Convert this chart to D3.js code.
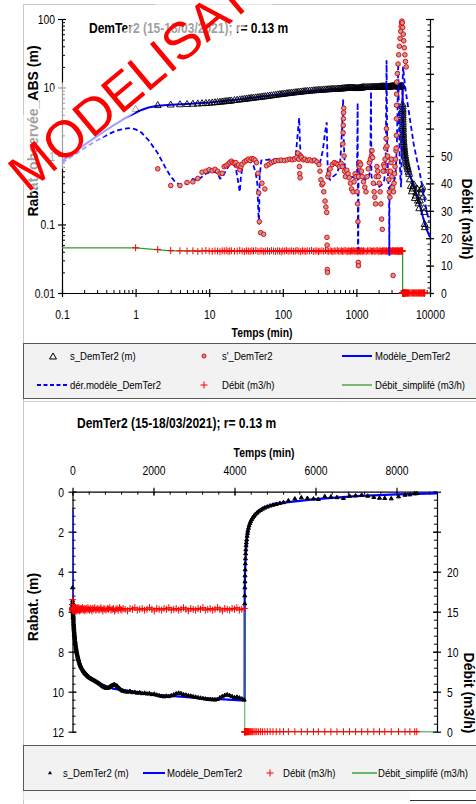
<!DOCTYPE html>
<html>
<head>
<meta charset="utf-8">
<script src="https://cdn.jsdelivr.net/npm/d3@7"></script>
<style>
  body { margin: 0; background: #fff; }
  svg { display: block; }
</style>
</head>
<body>
<div id="chart"></div>
<script>
// ---------- data (time in min) ----------
// observed rows: [time, drawdown s (m), pumping rate Q (m3/h)]
const pumpingObs = [
  [1,4.8,16.5],[2,5.45,15.9],[3,5.55,15.5],[4,5.6,15.4],[5,5.65,15.3],[6,5.7,15.4],[7,5.75,15.2],[8,5.8,15.3],[9,5.85,15.5],[10,5.9,15.3],
  [11,5.95,15.2],[12,6.0,15.4],[13,6.05,15.3],[14,6.1,15.1],[15,6.15,15.4],[16,6.2,15.3],[17,6.24,15.5],[18,6.28,15.2],[19,6.32,15.3],[20,6.36,15.4],
  [22,6.45,15.2],[24,6.52,15.3],[26,6.6,15.5],[28,6.66,15.3],[30,6.72,15.1],[32,6.78,15.4],[34,6.84,15.3],[36,6.9,15.2],[38,6.95,15.4],[40,7.0,15.3],
  [43,7.06,15.5],[46,7.12,15.2],[49,7.18,15.3],[52,7.24,15.4],[55,7.3,15.1],[58,7.36,15.3],[62,7.44,15.4],[66,7.5,15.2],[70,7.56,15.5],
  [75,7.64,15.3],[80,7.72,15.2],[85,7.8,15.4],[90,7.86,15.3],[95,7.92,15.1],[100,7.98,15.4],[106,8.04,15.3],[112,8.1,15.5],[118,8.16,15.2],
  [125,8.22,15.3],[132,8.28,15.4],[140,8.34,15.2],[148,8.4,15.3],[156,8.46,15.5],[165,8.52,15.3],[175,8.58,15.1],[185,8.64,15.4],[195,8.7,15.3],[205,8.74,15.2],[215,8.78,15.4],
  [230,8.84,15.3],[245,8.9,15.5],[260,8.95,15.2],[275,9.0,15.3],[290,9.04,15.4],[305,9.08,15.1],[320,9.12,15.3],
  [340,9.16,15.4],[360,9.2,15.2],[380,9.24,15.5],[400,9.27,15.3],[420,9.3,15.2],[440,9.33,15.4],[460,9.36,15.3],[480,9.38,15.1],[500,9.4,15.4],
  [525,9.43,15.3],[550,9.46,15.5],[575,9.49,15.2],[600,9.52,15.3],[625,9.55,15.4],[650,9.58,15.2],[675,9.62,15.3],[700,9.66,15.5],[725,9.7,15.3],[750,9.74,15.1],[775,9.77,15.4],[800,9.8,15.3],
  [830,9.82,15.2],[860,9.83,15.4],[890,9.81,15.3],[920,9.76,15.5],[950,9.72,15.2],[980,9.68,15.3],[1010,9.66,15.4],[1040,9.65,15.1],[1070,9.68,15.3],[1100,9.72,15.4],
  [1130,9.78,15.2],[1160,9.84,15.5],[1190,9.9,15.3],[1220,9.94,15.2],[1250,9.97,15.4],
  [1300,10.0,15.3],[1360,10.02,15.1],[1420,9.98,15.4],[1480,10.04,15.3],[1540,10.03,15.5],[1600,10.07,15.2],[1660,10.05,15.3],[1720,10.09,15.4],[1780,10.07,15.2],[1840,10.11,15.3],
  [1900,10.09,15.5],[1960,10.14,15.3],[2020,10.12,15.1],[2080,10.17,15.4],[2140,10.2,15.3],[2200,10.23,15.2],[2260,10.25,15.4],[2320,10.22,15.3],[2380,10.24,15.5],[2440,10.2,15.2],
  [2500,10.15,15.3],[2560,10.1,15.4],[2620,10.07,15.2],[2680,10.09,15.3],[2740,10.14,15.5],[2800,10.17,15.3],[2860,10.2,15.1],[2920,10.22,15.4],[2980,10.25,15.3],[3040,10.27,15.2],
  [3100,10.3,15.4],[3160,10.32,15.3],[3220,10.34,15.5],[3280,10.36,15.2],[3340,10.38,15.3],[3400,10.39,15.4],[3460,10.4,15.2],[3520,10.41,15.3],[3580,10.38,15.5],[3640,10.3,15.3],
  [3700,10.24,15.1],[3760,10.18,15.4],[3820,10.15,15.3],[3880,10.19,15.2],[3940,10.24,15.4],[4000,10.29,15.3],[4060,10.27,15.5],[4120,10.31,15.2],[4180,10.36,15.3],[4240,10.41,15.4]
];
const recoveryObs = [
  [4252,5.6,0],[4254,5.2,0],[4256,4.8,0],[4258,4.5,0],[4260,4.2,0],[4263,3.9,0],[4266,3.6,0],[4270,3.35,0],[4275,3.1,0],[4280,2.9,0],
  [4286,2.7,0],[4292,2.55,0],[4300,2.4,0],[4310,2.22,0],[4320,2.08,0],[4330,1.96,0],[4345,1.82,0],[4360,1.7,0],[4380,1.58,0],[4400,1.48,0],
  [4425,1.38,0],[4450,1.3,0],[4480,1.22,0],[4510,1.15,0],[4550,1.07,0],[4590,1.0,0],[4640,0.93,0],[4690,0.87,0],[4750,0.81,0],[4810,0.76,0],
  [4880,0.71,0],[4950,0.67,0],[5030,0.63,0],[5120,0.58,0],[5210,0.54,0],[5330,0.45,0],[5490,0.36,0],[5650,0.3,0],[5800,0.33,0],[5950,0.36,0],
  [6070,0.38,0],[6230,0.24,0],[6380,0.26,0],[6530,0.29,0],[6690,0.33,0],[6840,0.22,0],[6990,0.2,0],[7140,0.17,0],[7290,0.22,0],[7440,0.28,0],
  [7580,0.32,0],[7710,0.33,0],[7870,0.35,0],[8050,0.25,0],[8210,0.17,0],[8330,0.15,0],[8450,0.1,0],[8500,0.09,0]
];
// s'_DemTer2 (log derivative of observed drawdown)
const sDerivative = [
  [2,0.65],[3,0.37],[4,0.37],[5,0.41],[6,0.42],[7,0.47],[8,0.58],[9,0.6],[10,0.63],[11,0.61],[12,0.64],[13,0.6],[14,0.55],[15,0.56],
  [16,0.7],[17,0.72],[18,0.76],[19,0.8],[20,0.84],[21,0.8],[22,0.78],[23,0.8],[24,0.72],[25,0.74],[26,0.63],[27,0.7],[28,0.76],
  [30,0.82],[32,0.86],[34,0.9],[36,0.86],[38,0.92],[40,0.9],[42,0.87],[44,0.8],[46,0.56],[47,0.29],[48,0.11],[50,0.076],[52,0.4],
  [55,0.072],[57,0.33],[60,0.72],[65,0.76],[70,0.8],[75,0.83],[80,0.85],[88,0.86],[95,0.87],[105,0.86],[115,0.88],[125,0.9],
  [135,0.88],[145,0.9],[155,0.95],[160,1.1],[165,0.9],[168,0.7],[170,0.55],[172,0.48],[175,1.0],[180,0.95],[190,0.88],[200,0.9],
  [215,0.86],[230,0.88],[250,0.85],[270,0.87],[290,0.82],[310,0.75],[320,0.6],[330,0.45],[340,0.38],[350,0.4],[360,0.3],[375,0.22],
  [385,0.18],[395,0.15],[398,0.065],[400,0.05],[402,0.022],[404,0.02],[410,0.5],[420,0.55],[440,0.65],[470,0.75],[500,0.8],[530,0.78],
  [560,0.75],[590,0.7],[620,0.78],[645,0.7],[655,1.5],[660,2.2],[663,2.8],[666,3.5],[670,4.3],[673,5.0],[680,1.0],[690,0.6],[710,0.5],
  [740,0.62],[770,0.55],[800,0.48],[830,0.4],[860,0.33],[900,0.3],[930,0.42],[960,0.55],[990,0.5],[1020,0.3],[1040,0.2],[1050,0.11],
  [1060,0.028],[1065,0.025],[1070,0.5],[1090,0.7],[1110,0.8],[1140,0.75],[1170,0.6],[1200,0.5],[1250,0.42],[1300,0.35],[1350,0.3],
  [1400,0.5],[1450,0.65],[1500,0.8],[1550,0.9],[1600,1.0],[1630,1.2],[1660,0.95],[1700,0.4],[1740,0.3],[1780,0.25],[1820,0.2],
  [1860,0.5],[1900,0.7],[1950,0.6],[2000,0.5],[2050,0.4],[2100,0.3],[2150,0.2],[2200,0.12],[2250,0.085],[2300,0.6],[2350,0.75],
  [2400,0.7],[2450,0.9],[2500,1.3],[2530,1.8],[2560,2.5],[2600,1.4],[2650,1.0],[2700,0.6],[2750,0.45],[2800,0.3],[2850,0.25],
  [2900,0.6],[2950,0.8],[3000,0.9],[3050,0.5],[3100,0.35],[3150,0.018],[3200,0.3],[3250,0.4],[3300,0.55],[3350,0.7],[3400,0.9],
  [3450,1.2],[3480,1.3],[3490,2],[3500,3.5],[3510,5.5],[3520,8],[3530,12],[3600,16],[3680,22],[3760,30],[3840,40],[3920,52],
  [4000,66],[4060,78],[4110,88],[4150,93],[4200,88],[4260,75],[4330,60],[4400,48],[4480,38],[4560,30],[4650,24],[4750,20]
];
// Modèle_DemTer2
const model = [
  [0.1,0.85],[0.15,1.15],[0.2,1.45],[0.3,1.95],[0.4,2.4],[0.5,2.8],[0.6,3.15],[0.7,3.5],[0.8,3.8],[1,4.25],[1.2,4.7],[1.5,5.1],
  [2,5.4],[3,5.6],[5,5.75],[10,6.05],[20,6.5],[50,7.3],[100,8.0],[200,8.75],[500,9.45],[1000,9.85],[2000,10.15],[3000,10.3],
  [4250,10.45],[4251,6.0],[4253,5.0],[4260,4.0],[4280,3.0],[4320,2.1],[4400,1.45],[4500,1.12],[4700,0.8],[5000,0.6],[5500,0.48],
  [6000,0.37],[7000,0.22],[8000,0.13],[9000,0.085],[10000,0.065]
];
// dér.modèle_DemTer2
const modelDerivative = [
  [0.1,0.8],[0.15,1.05],[0.2,1.3],[0.3,1.7],[0.4,2.0],[0.5,2.25],[0.6,2.4],[0.7,2.5],[0.85,2.55],[1,2.45],[1.2,2.2],[1.5,1.7],
  [2,1.1],[2.5,0.7],[3,0.5],[3.5,0.41],[4,0.38],[5,0.4],[6,0.46],[7,0.44],[8,0.5],[9,0.55],[11,0.6],[13,0.56],[14,0.47],[15,0.48],
  [17,0.62],[19,0.75],[21,0.78],[23,0.66],[24.5,0.45],[26,0.3],[27,0.5],[29,0.8],[32,0.86],[36,0.83],[40,0.72],[43,0.56],[45,0.4],
  [46.5,0.15],[47.5,0.1],[48.5,0.5],[51,0.86],[60,0.88],[80,0.9],[100,0.9],[130,0.92],[150,1.0],[160,2.2],[167,3.6],[171,1.6],
  [175,1.0],[190,0.92],[230,0.88],[280,0.9],[320,0.8],[350,1.2],[375,2.2],[395,3.1],[402,1.2],[410,0.5],[440,0.45],[480,0.5],
  [540,0.55],[600,0.75],[640,2.5],[660,6.7],[675,1.5],[700,0.62],[760,0.55],[850,0.5],[950,0.48],[1020,0.6],[1040,6.0],[1050,0.05],
  [1060,0.043],[1070,0.6],[1150,0.5],[1300,0.45],[1450,0.48],[1540,0.6],[1580,8.7],[1600,0.5],[1700,0.42],[1850,0.38],[2000,0.35],
  [2200,0.38],[2400,0.45],[2500,0.9],[2570,25],[2620,1.5],[2700,0.45],[2780,0.3],[2800,0.035],[2820,0.35],[3000,0.38],[3200,0.42],
  [3400,0.5],[3550,1.5],[3650,8],[3700,23],[3760,6],[3850,1.2],[3950,0.5],[4050,0.35],[4150,1.5],[4250,12],[4300,20],[4600,10],
  [5000,5.5],[5500,2.8],[6000,1.5],[6650,0.87],[7300,0.55],[8000,0.32],[8800,0.18],[9700,0.11]
];
// Débit_simplifé (m3/h)
const rateSimplified = [[0.1,16.5],[1,16.5],[3,15.4],[4250,15.4],[4250,0],[10000,0]];

// ---------- axis ticks ----------
const logXTicks = [0.1, 1, 10, 100, 1000, 10000];
const logXLabels = ["0.1", "1", "10", "100", "1000", "10000"];
const logYTicks = [0.01, 0.1, 1, 10, 100];
const logYLabels = ["0.01", "0.1", "1", "10", "100"];
const q1Ticks = [0, 10, 20, 30, 40, 50, 60, 70, 80, 90, 100];
const q1Labels = ["0", "10", "20", "30", "40", "50", "", "", "", "", ""];
const linXTicks = [0, 2000, 4000, 6000, 8000];
const linXLabels = ["0", "2000", "4000", "6000", "8000"];
const linYTicks = [0, 2, 4, 6, 8, 10, 12];
const linYLabels = ["0", "2", "4", "6", "8", "10", "12"];
const q2Ticks = [0, 5, 10, 15, 20, 25, 30];
const q2Labels = ["0", "5", "10", "15", "20", "", ""];

const title = "DemTer2 (15-18/03/2021); r= 0.13 m";

// ---------- setup ----------
const W = 476, H = 804;
const FONT = "'Liberation Sans',Arial,sans-serif";
const SX = 0.83;   // the reference text is horizontally condensed
const BLUE = "#0000ff", RED = "#ff0000", GREEN = "#339933";

const svg = d3.select("#chart").append("svg")
    .attr("width", W).attr("height", H)
    .style("font-family", FONT);

svg.append("rect").attr("width", W).attr("height", H).attr("fill", "#fff");
svg.append("path").attr("d", "M23.5,804V4.5H476").attr("fill", "none").attr("stroke", "#c8c8c8");

const allObs = pumpingObs.concat(recoveryObs);
const plus = "M-3.5,0H3.5M0,-3.5V3.5";
const triBig = d3.symbol(d3.symbolTriangle, 21)();
const triSmall = d3.symbol(d3.symbolTriangle, 7)();

// condensed horizontal text
function ntext(parent, x, y, str, size, bold, anchor) {
    return parent.append("text")
        .attr("transform", `translate(${x},${y}) scale(${SX},1)`)
        .attr("dy", "0.35em")
        .attr("font-size", size)
        .attr("font-weight", bold ? "bold" : null)
        .attr("text-anchor", anchor || "start")
        .text(str);
}
function styleAxis(g, dx, dy) {
    g.attr("font-family", FONT).attr("font-size", 12.5);
    g.select(".domain").attr("stroke", "#000").attr("stroke-width", 1.2);
    g.selectAll(".tick line").attr("stroke", "#000").attr("stroke-width", 1.2);
    g.selectAll(".tick text").attr("fill", "#000")
        .attr("x", null).attr("y", null).attr("dy", "0.35em")
        .attr("transform", `translate(${dx},${dy}) scale(${SX},1)`);
}
function minorAxis(parent, axis, tr) {
    parent.append("g").attr("transform", tr)
        .call(axis.tickFormat("").tickSizeOuter(0))
        .call(g => g.select(".domain").remove())
        .call(g => g.selectAll(".tick line").attr("stroke", "#000"));
}

// ================= top chart (log-log) =================
const gTop = svg.append("g");
const xL = d3.scaleLog().domain([0.1, 10000]).range([62, 430]);
const yL = d3.scaleLog().domain([0.01, 100]).range([293, 19]);
const yQ1 = d3.scaleLinear().domain([0, 100]).range([293, 19]);

const minorLogX = xL.ticks().filter(d => !logXTicks.includes(d));
const minorLogY = yL.ticks().filter(d => !logYTicks.includes(d));

minorAxis(gTop, d3.axisTop(xL).tickValues(minorLogX).tickSize(3), "translate(0,293)");
minorAxis(gTop, d3.axisRight(yL).tickValues(minorLogY).tickSize(3), "translate(62,0)");
minorAxis(gTop, d3.axisLeft(yQ1).tickValues(d3.range(0, 101, 2)).tickSize(2.5), "translate(430,0)");

gTop.append("g").attr("transform", "translate(0,293)")
    .call(d3.axisBottom(xL).tickValues(logXTicks).tickFormat((d, i) => logXLabels[i]).tickSize(4).tickSizeOuter(0))
    .call(g => styleAxis(g, 0, 22))
    .call(g => g.selectAll(".tick line").attr("y1", -4));
gTop.append("g").attr("transform", "translate(62,0)")
    .call(d3.axisLeft(yL).tickValues(logYTicks).tickFormat((d, i) => logYLabels[i]).tickSize(4).tickSizeOuter(0))
    .call(g => styleAxis(g, -7, 0))
    .call(g => g.selectAll(".tick line").attr("x1", 4));
gTop.append("g").attr("transform", "translate(430,0)")
    .call(d3.axisRight(yQ1).tickValues(q1Ticks).tickFormat((d, i) => q1Labels[i]).tickSize(4).tickSizeOuter(0))
    .call(g => styleAxis(g, 11, 0))
    .call(g => g.selectAll(".tick line").attr("x1", -4));

const lineL = d3.line().x(d => xL(d[0])).y(d => yL(d[1]));
const lineQ1 = d3.line().x(d => xL(d[0])).y(d => yQ1(d[1]));

gTop.append("path").attr("d", lineQ1(rateSimplified))
    .attr("fill", "none").attr("stroke", GREEN).attr("stroke-width", 1.3);
gTop.append("g").selectAll("path").data(allObs).join("path")
    .attr("transform", d => `translate(${xL(d[0])},${yQ1(d[2])})`)
    .attr("d", plus).attr("stroke", RED).attr("stroke-width", 1);
gTop.append("path").attr("d", lineL(model))
    .attr("fill", "none").attr("stroke", BLUE).attr("stroke-width", 2);
gTop.append("g").selectAll("path").data(allObs).join("path")
    .attr("transform", d => `translate(${xL(d[0])},${yL(d[1])})`)
    .attr("d", triBig).attr("fill", "none").attr("stroke", "#000").attr("stroke-width", 0.9);
gTop.append("path").attr("d", lineL(modelDerivative))
    .attr("fill", "none").attr("stroke", BLUE).attr("stroke-width", 1.8).attr("stroke-dasharray", "5,3");
gTop.append("g").selectAll("circle").data(sDerivative).join("circle")
    .attr("cx", d => xL(d[0])).attr("cy", d => yL(d[1])).attr("r", 2.3)
    .attr("fill", "#a6a6a6").attr("stroke", RED).attr("stroke-width", 1);

ntext(gTop, 89, 28, title, 14.5, true);
ntext(gTop, 262, 333, "Temps (min)", 12.5, true, "middle");
gTop.append("text").attr("transform", "translate(33,131) rotate(-90)").attr("dy", "0.35em")
    .attr("text-anchor", "middle").attr("font-size", 14).attr("font-weight", "bold")
    .text("Rabat. observée_ABS (m)");
gTop.append("text").attr("transform", "translate(467,219) rotate(90)").attr("dy", "0.35em")
    .attr("text-anchor", "middle").attr("font-size", 14).attr("font-weight", "bold")
    .text("Débit (m3/h)");

// legend 1
const lg1 = svg.append("g");
lg1.append("rect").attr("x", 23.5).attr("y", 343.5).attr("width", 460).attr("height", 55)
    .attr("fill", "#f2f2f2").attr("stroke", "#595959");
lg1.append("path").attr("transform", "translate(53,357)").attr("d", triBig)
    .attr("fill", "none").attr("stroke", "#000").attr("stroke-width", 1);
lg1.append("circle").attr("cx", 204).attr("cy", 356).attr("r", 2)
    .attr("fill", "#a6a6a6").attr("stroke", RED);
lg1.append("line").attr("x1", 342).attr("x2", 372).attr("y1", 356).attr("y2", 356)
    .attr("stroke", BLUE).attr("stroke-width", 2);
lg1.append("line").attr("x1", 37).attr("x2", 68).attr("y1", 385).attr("y2", 385)
    .attr("stroke", BLUE).attr("stroke-width", 1.8).attr("stroke-dasharray", "4,2.5");
lg1.append("path").attr("transform", "translate(204,385)").attr("d", plus).attr("stroke", RED);
lg1.append("line").attr("x1", 342).attr("x2", 372).attr("y1", 385).attr("y2", 385)
    .attr("stroke", GREEN).attr("stroke-width", 1.3);
const lg1Items = [
  ["s_DemTer2 (m)", 70, 356], ["s'_DemTer2", 222, 356], ["Modèle_DemTer2", 375, 356],
  ["dér.modèle_DemTer2", 70, 385], ["Débit (m3/h)", 222, 385], ["Débit_simplifé (m3/h)", 375, 385]
];
lg1Items.forEach(d => ntext(lg1, d[1], d[2], d[0], 11.5, false));

svg.append("line").attr("x1", 23).attr("x2", W).attr("y1", 401.5).attr("y2", 401.5).attr("stroke", "#d0d0d0");

// ================= bottom chart (linear) =================
const gBot = svg.append("g");
const xT = d3.scaleLinear().domain([0, 9000]).range([72.5, 437]);
const yS = d3.scaleLinear().domain([0, 12]).range([491.7, 731.7]);
const yQ2 = d3.scaleLinear().domain([0, 30]).range([731.7, 491.7]);

gBot.append("clipPath").attr("id", "clipLin")
    .append("rect").attr("x", 72.5).attr("y", 485).attr("width", 364.5).attr("height", 255);

minorAxis(gBot, d3.axisBottom(xT).tickValues(d3.range(0, 9001, 400)).tickSize(3), `translate(0,${yS(0)})`);
minorAxis(gBot, d3.axisRight(yS).tickValues(d3.range(0, 12.01, 0.4)).tickSize(3), "translate(72.5,0)");
minorAxis(gBot, d3.axisLeft(yQ2).tickValues(d3.range(0, 30.01, 1)).tickSize(3), "translate(437,0)");

gBot.append("g").attr("transform", `translate(0,${yS(0)})`)
    .call(d3.axisTop(xT).tickValues(linXTicks).tickFormat((d, i) => linXLabels[i]).tickSize(4).tickSizeOuter(0))
    .call(g => styleAxis(g, 0, -21))
    .call(g => g.selectAll(".tick line").attr("y1", 4));
gBot.append("g").attr("transform", "translate(72.5,0)")
    .call(d3.axisLeft(yS).tickValues(linYTicks).tickFormat((d, i) => linYLabels[i]).tickSize(4).tickSizeOuter(0))
    .call(g => styleAxis(g, -8.5, 0))
    .call(g => g.selectAll(".tick line").attr("x1", 4));
gBot.append("g").attr("transform", "translate(437,0)")
    .call(d3.axisRight(yQ2).tickValues(q2Ticks).tickFormat((d, i) => q2Labels[i]).tickSize(4).tickSizeOuter(0))
    .call(g => styleAxis(g, 10, 0))
    .call(g => g.selectAll(".tick line").attr("x1", -4));

const lineS = d3.line().x(d => xT(d[0])).y(d => yS(d[1]));
const lineQ2 = d3.line().x(d => xT(d[0])).y(d => yQ2(d[1]));

gBot.append("path").attr("d", lineS(model)).attr("clip-path", "url(#clipLin)")
    .attr("fill", "none").attr("stroke", BLUE).attr("stroke-width", 2.2);
gBot.append("path").attr("d", lineQ2(rateSimplified)).attr("clip-path", "url(#clipLin)")
    .attr("fill", "none").attr("stroke", GREEN).attr("stroke-width", 1.4).attr("stroke-opacity", 0.65);
gBot.append("g").selectAll("path").data(allObs).join("path")
    .attr("transform", d => `translate(${xT(d[0])},${yS(d[1])})`)
    .attr("d", triSmall).attr("fill", "#000").attr("stroke", "#000").attr("stroke-width", 1);
gBot.append("g").selectAll("path").data(allObs).join("path")
    .attr("transform", d => `translate(${xT(d[0])},${yQ2(d[2])})`)
    .attr("d", plus).attr("stroke", RED).attr("stroke-width", 1);

ntext(gBot, 77, 423, title, 14.5, true);
ntext(gBot, 264, 453, "Temps (min)", 12.5, true, "middle");
gBot.append("text").attr("transform", "translate(33,607) rotate(-90)").attr("dy", "0.35em")
    .attr("text-anchor", "middle").attr("font-size", 14).attr("font-weight", "bold")
    .text("Rabat.  (m)");
gBot.append("text").attr("transform", "translate(469,693) rotate(90)").attr("dy", "0.35em")
    .attr("text-anchor", "middle").attr("font-size", 14).attr("font-weight", "bold")
    .text("Débit (m3/h)");

// legend 2
const lg2 = svg.append("g");
lg2.append("rect").attr("x", 23.5).attr("y", 745.5).attr("width", 460).attr("height", 45)
    .attr("fill", "#f2f2f2").attr("stroke", "#595959");
lg2.append("rect").attr("x", 23.5).attr("y", 791).attr("width", 387).attr("height", 9).attr("fill", "#f8f8f8");
lg2.append("line").attr("x1", 410).attr("x2", W).attr("y1", 800.5).attr("y2", 800.5).attr("stroke", "#333");
lg2.append("path").attr("transform", "translate(50,773)").attr("d", triSmall).attr("fill", "#000");
lg2.append("line").attr("x1", 143).attr("x2", 165).attr("y1", 773).attr("y2", 773)
    .attr("stroke", BLUE).attr("stroke-width", 2);
lg2.append("path").attr("transform", "translate(270,773)").attr("d", plus).attr("stroke", RED);
lg2.append("line").attr("x1", 352).attr("x2", 377).attr("y1", 773).attr("y2", 773)
    .attr("stroke", GREEN).attr("stroke-width", 1.4);
const lg2Items = [["s_DemTer2 (m)", 63], ["Modèle_DemTer2", 167], ["Débit (m3/h)", 283], ["Débit_simplifé (m3/h)", 378]];
lg2Items.forEach(d => ntext(lg2, d[1], 773, d[0], 11.5, false));

// ================= watermark =================
const wm = svg.append("g").attr("transform", "translate(15.6,179.2) rotate(-40)");
wm.append("path").attr("d", "M3,-44L420,-44L420,35L3,21Z").attr("fill", "#fff").attr("fill-opacity", 0.62);
wm.append("text").attr("x", 0).attr("y", 18.6).attr("font-size", 52)
    .attr("fill", RED).text("MODELISATION");
</script>
</body>
</html>
